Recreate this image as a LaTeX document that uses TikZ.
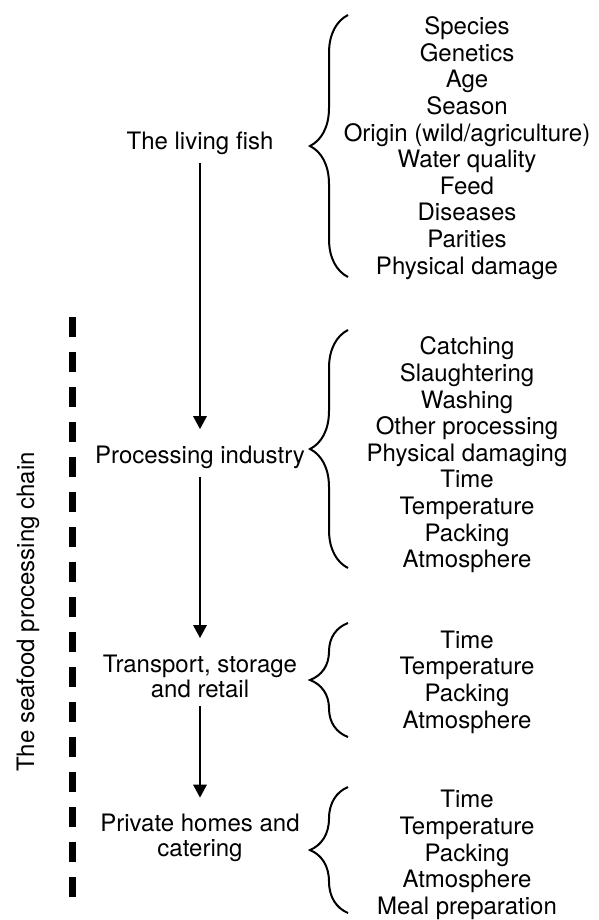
\documentclass[tikz,border=0pt]{standalone}
\usepackage{fontspec}
\setmainfont{TeX Gyre Heros}
\usepackage{tikz}
\usetikzlibrary{arrows.meta,decorations,decorations.pathreplacing}

\begin{document}
\begin{tikzpicture}[x=0.5pt,y=-0.5pt,
  stage/.style={align=center,inner sep=0pt,font=\fontsize{12}{12.5}\selectfont},
  factors/.style={align=center,inner sep=0pt,font=\fontsize{12}{13.3}\selectfont},
  flow/.style={-{Triangle[length=6.5pt,width=6.5pt]},line width=1.4pt,shorten <=4pt,shorten >=8pt},
  fbrace/.style={decorate,decoration={brace,amplitude=19pt},line width=1pt},
  chainline/.style={line width=3.2pt,dash pattern=on 10pt off 7.5pt}]
\useasboundingbox (0,0) rectangle (599,920);
\node[stage] (fish) at (200,143) {The living fish};
\node[stage] (proc) at (200,457) {Processing industry};
\node[stage] (trans) at (200,676) {Transport, storage\\and retail};
\node[stage] (homes) at (200,838) {Private homes and\\catering};
\draw[flow] (fish) -- (proc);
\draw[flow] (proc) -- (trans);
\draw[flow] (trans) -- (homes);
\node[factors] (fishlist) at (467,148) {Species\\Genetics\\Age\\Season\\Origin (wild/agriculture)\\Water quality\\Feed\\Diseases\\Parities\\Physical damage};
\node[factors] (proclist) at (467,455) {Catching\\Slaughtering\\Washing\\Other processing\\Physical damaging\\Time\\Temperature\\Packing\\Atmosphere};
\node[factors] (translist) at (467,682) {Time\\Temperature\\Packing\\Atmosphere};
\node[factors] (homeslist) at (467,855) {Time\\Temperature\\Packing\\Atmosphere\\Meal preparation};
\draw[fbrace] (348,277) -- (348,15);
\draw[fbrace] (348,568) -- (348,330);
\draw[fbrace] (348,737) -- (348,623);
\draw[fbrace] (348,913) -- (348,787);
\coordinate (chaintop) at (72.5,317);
\coordinate (chainend) at (72.5,897);
\draw[chainline] (chaintop) -- (chainend);
\node[stage,rotate=90] (chain) at (28,612) {The seafood processing chain};
\end{tikzpicture}
\end{document}
